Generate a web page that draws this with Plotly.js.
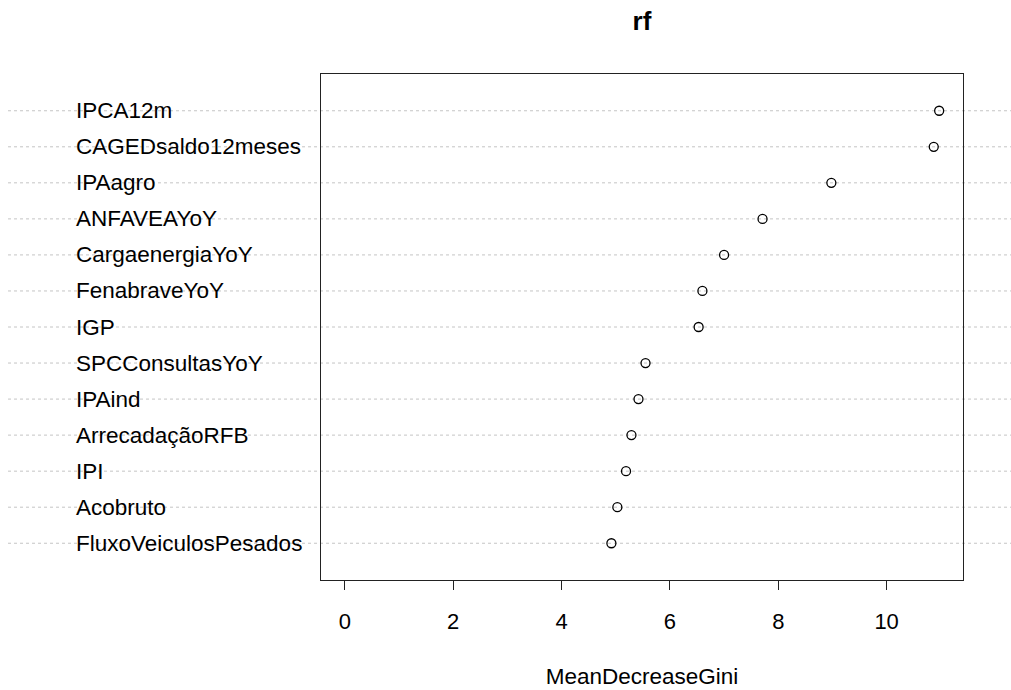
<!DOCTYPE html>
<html>
<head>
<meta charset="utf-8">
<script src="https://cdn.plot.ly/plotly-3.0.1.min.js"></script>
<style>html,body{margin:0;padding:0;background:#fff;}#chart{width:1011px;height:690px;}</style>
</head>
<body>
<div id="chart"></div>
<script>
// Variables, top to bottom as drawn
const variables = ["IPCA12m", "CAGEDsaldo12meses", "IPAagro", "ANFAVEAYoY", "CargaenergiaYoY",
  "FenabraveYoY", "IGP", "SPCConsultasYoY", "IPAind", "ArrecadaçãoRFB", "IPI", "Acobruto",
  "FluxoVeiculosPesados"];
const meanDecreaseGini = [10.97, 10.87, 8.98, 7.71, 7.00, 6.60, 6.53, 5.55, 5.42, 5.29, 5.19, 5.03, 4.92];
const xTicks = [0, 2, 4, 6, 8, 10];

const n = variables.length;
const ypos = variables.map((v, i) => n - i); // top item highest
const font = "Liberation Sans, Arial, sans-serif";

const shapes = ypos.map(y => ({
  type: "line", xref: "paper", yref: "y", x0: -0.4875, x1: 1.08, y0: y, y1: y,
  line: {color: "#c4c4c4", width: 1, dash: "dot"}, layer: "below"
}));

const annotations = variables.map((v, i) => ({
  text: v, xref: "paper", yref: "y", x: -0.3855, y: ypos[i],
  xanchor: "left", yanchor: "middle", showarrow: false,
  font: {family: font, size: 22.5, color: "#000"}
}));

const trace = {
  type: "scatter", mode: "markers", x: meanDecreaseGini, y: ypos,
  marker: {symbol: "circle-open", size: 9, color: "#000", line: {width: 1.3, color: "#000"}},
  hoverinfo: "x+text", text: variables
};

const layout = {
  width: 1011, height: 690,
  margin: {l: 321, r: 48, t: 74, b: 110},
  paper_bgcolor: "#fff", plot_bgcolor: "#fff",
  showlegend: false,
  title: {text: "<b>rf</b>", x: 0.5, xref: "paper", y: 0.97, yref: "container", yanchor: "middle",
    font: {family: font, size: 26, color: "#000"}},
  xaxis: {
    range: [-0.44, 11.41], tickvals: xTicks, ticktext: xTicks.map(String),
    ticks: "outside", ticklen: 9, tickcolor: "#222", tickwidth: 1,
    showline: true, mirror: true, linecolor: "#222", linewidth: 1,
    showgrid: false, zeroline: false, ticklabelstandoff: 13,
    tickfont: {family: font, size: 22, color: "#000"},
    title: {text: "MeanDecreaseGini", standoff: 34, font: {family: font, size: 22.5, color: "#000"}}
  },
  yaxis: {
    range: [-0.02, 14.02], showticklabels: false, ticks: "",
    showline: true, mirror: true, linecolor: "#222", linewidth: 1,
    showgrid: false, zeroline: false
  },
  shapes: shapes,
  annotations: annotations
};

Plotly.newPlot("chart", [trace], layout, {displayModeBar: false, staticPlot: true});
</script>
</body>
</html>
